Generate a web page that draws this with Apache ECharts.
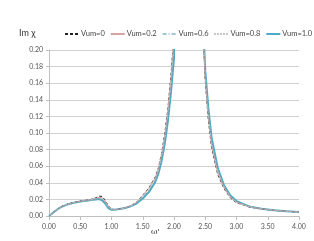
<!DOCTYPE html>
<html><head><meta charset="utf-8">
<script src="https://cdn.jsdelivr.net/npm/echarts@6/dist/echarts.min.js"></script>
<style>html,body{margin:0;padding:0;background:#fff}#c{width:314px;height:241px}</style>
</head><body><div id="c"></div>
<script>
const omega = [0,0.05,0.1,0.15,0.2,0.3,0.4,0.5,0.6,0.7,0.75,0.8,0.85,0.9,0.95,1.0,1.05,1.1,1.2,1.3,1.4,1.5,1.6,1.7,1.75,1.8,1.85,1.9,1.95,2.0,2.2,2.45,2.5,2.55,2.6,2.7,2.8,2.9,3.0,3.2,3.4,3.6,3.8,4.0];
const vum0  = [0,0.003,0.0065,0.009,0.0115,0.0145,0.0165,0.018,0.019,0.0205,0.022,0.024,0.0235,0.019,0.012,0.0085,0.0078,0.008,0.0095,0.012,0.0165,0.025,0.034,0.047,0.058,0.075,0.098,0.128,0.168,0.22,2.0,0.25,0.163,0.115,0.083,0.05,0.033,0.022,0.016,0.011,0.0085,0.0068,0.0056,0.0047];
const vum02 = [0,0.003,0.0064,0.0089,0.0113,0.0143,0.0163,0.0178,0.0188,0.0200,0.0212,0.0225,0.022,0.018,0.0115,0.0082,0.0077,0.008,0.0094,0.0119,0.0162,0.0245,0.0333,0.046,0.0568,0.0735,0.096,0.125,0.164,0.215,2.0,0.248,0.165,0.118,0.085,0.052,0.034,0.0228,0.0165,0.0112,0.0086,0.0069,0.0057,0.0047];
const vum06 = [0,0.003,0.0062,0.0089,0.0112,0.0142,0.0162,0.0177,0.0187,0.0197,0.0205,0.0212,0.0205,0.0165,0.0105,0.0079,0.0076,0.008,0.0094,0.0118,0.016,0.0235,0.0318,0.0438,0.054,0.07,0.0915,0.12,0.157,0.205,2.0,0.252,0.17,0.123,0.089,0.055,0.0355,0.0238,0.0172,0.0113,0.0087,0.0069,0.0057,0.0048];
const vum08 = [0,0.003,0.0061,0.0088,0.0111,0.0141,0.0161,0.0176,0.0186,0.0196,0.0202,0.0208,0.0198,0.0158,0.01,0.0077,0.0075,0.008,0.0093,0.0116,0.0155,0.0222,0.030,0.0422,0.0525,0.068,0.089,0.116,0.152,0.198,2.0,0.255,0.172,0.126,0.092,0.0565,0.0362,0.0244,0.0176,0.0114,0.0087,0.007,0.0058,0.0048];
const vum10 = [0,0.003,0.006,0.0088,0.011,0.014,0.016,0.0175,0.0185,0.0195,0.02,0.0205,0.019,0.015,0.0095,0.0075,0.0075,0.008,0.0093,0.0115,0.015,0.021,0.029,0.041,0.051,0.066,0.086,0.113,0.148,0.19,2.0,0.26,0.175,0.13,0.095,0.058,0.037,0.025,0.018,0.0115,0.0088,0.007,0.0058,0.0048];
const seriesNames = ['Vum=0','Vum=0.2','Vum=0.6','Vum=0.8','Vum=1.0'];
const yTitle = 'Im χ';
const xTitle = "ω'";

const pairs = ys => omega.map((x,i)=>[x, ys[i]]);
const styles = [
  {color:'#222222', type:[3,2], width:1},
  {color:'#d9a3a3', type:'solid', width:1},
  {color:'#9fc7d6', type:[4,2,1,2], width:1},
  {color:'#8c8c8c', type:[1,2], width:1},
  {color:'#4bacc6', type:'solid', width:2}
];
const data = [vum0, vum02, vum06, vum08, vum10];
const font = 'Lato, "Liberation Sans", sans-serif';
const chart = echarts.init(document.getElementById('c'), null, {renderer:'canvas'});
chart.setOption({
  animation:false,
  backgroundColor:'#fff',
  grid:{left:49, right:15, top:50, bottom:25, containLabel:false},
  legend:{
    left:64, right:0, top:30, padding:0, itemWidth:14, itemHeight:6, itemGap:5,
    itemStyle:{opacity:0},
    textStyle:{fontSize:7.5, color:'#444', fontFamily:font, padding:[0,0,0,-3]},
    data:seriesNames
  },
  graphic:[
    {type:'text', left:19, top:29, style:{text:yTitle, fontSize:9, fill:'#333', fontFamily:font}},
    {type:'text', left:151, top:228, style:{text:xTitle, fontSize:8, fill:'#333', fontFamily:'"DejaVu Serif", serif'}}
  ],
  xAxis:{
    type:'value', min:0, max:4, interval:0.5,
    axisLine:{lineStyle:{color:'#bfbfbf'}},
    axisTick:{show:true, length:4, lineStyle:{color:'#bfbfbf'}},
    splitLine:{show:false},
    axisLabel:{fontSize:7, color:'#555', fontFamily:font, margin:7, formatter:v=>v.toFixed(2)}
  },
  yAxis:{
    type:'value', min:0, max:0.2, interval:0.02,
    axisLine:{show:true, lineStyle:{color:'#bfbfbf'}},
    axisTick:{show:true, length:3, lineStyle:{color:'#bfbfbf'}},
    splitLine:{lineStyle:{color:'#d0d0d0', width:1}},
    axisLabel:{fontSize:7, color:'#555', fontFamily:font, margin:6, formatter:v=>v.toFixed(2)}
  },
  series: seriesNames.map((n,i)=>({
    name:n, type:'line', data:pairs(data[i]), symbol:'none', showSymbol:false,
    clip:true, smooth:false, z: i===4 ? 1 : 2+i,
    lineStyle:styles[i], itemStyle:{color:styles[i].color}
  }))
});
</script></body></html>
